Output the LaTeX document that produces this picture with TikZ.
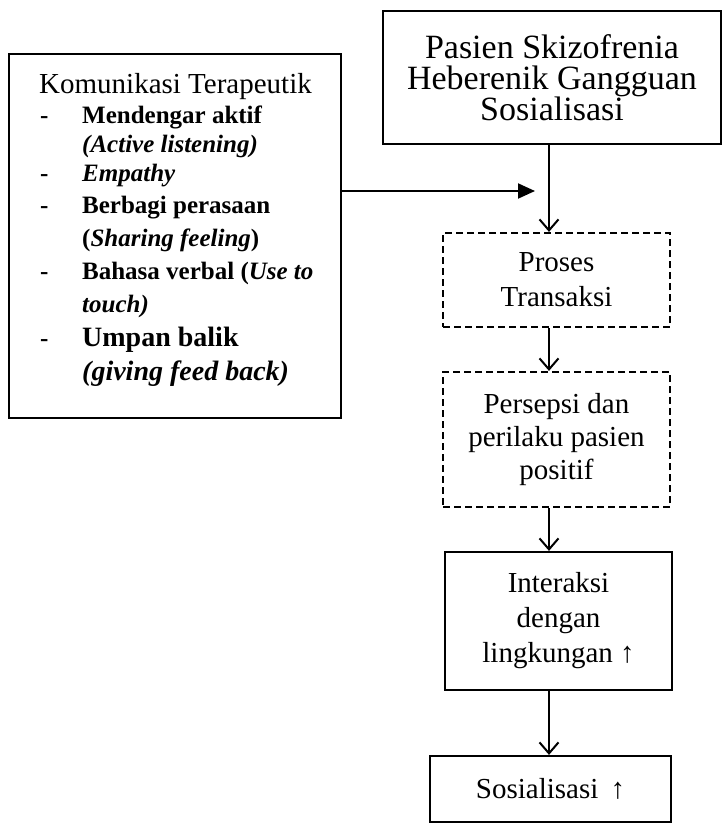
\documentclass[tikz,border=0pt]{standalone}
\usepackage{fontspec}
\setmainfont{Liberation Serif}
\usetikzlibrary{arrows.meta}
\begin{document}
\begin{tikzpicture}[x=1pt,y=-1pt,
  box/.style={draw,line width=2.2pt,inner sep=0pt,align=center},
  dbox/.style={box,dash pattern=on 7pt off 4pt},
  conn/.style={line width=2pt,-{Straight Barb[length=11pt,width=19pt,line width=2pt]}},
  hconn/.style={line width=2pt,-{Triangle[length=17pt,width=15pt]}},
  lt/.style={anchor=base west,inner sep=0pt},
  itm/.style={lt,font=\fontsize{25}{25}\selectfont\bfseries},
  itmb/.style={lt,font=\fontsize{28}{28}\selectfont\bfseries},
]
\useasboundingbox (0,0) rectangle (722,823);
% top box
\node[box,minimum width=338pt,minimum height=133pt,font=\fontsize{34}{31}\selectfont] (top) at (552,77.5)
  {Pasien Skizofrenia\\Heberenik Gangguan\\Sosialisasi};
% left box
\node[box,minimum width=332pt,minimum height=364pt] (left) at (175,236) {};
\node[lt,font=\fontsize{29}{29}\selectfont] (t0) at (39,93) {Komunikasi Terapeutik};
\node[itm] (t1) at (40,123) {\makebox[42pt][l]{-}Mendengar aktif};
\node[itm] (t2) at (82,152) {\textit{(Active listening)}};
\node[itm] (t3) at (40,181) {\makebox[42pt][l]{-}\textit{Empathy}};
\node[itm] (t4) at (40,213) {\makebox[42pt][l]{-}Berbagi perasaan};
\node[itm] (t5) at (82,246) {(\textit{Sharing feeling})};
\node[itm] (t6) at (40,279) {\makebox[42pt][l]{-}Bahasa verbal (\textit{Use to}};
\node[itm] (t7) at (82,312) {\textit{touch)}};
\node[itmb] (t8) at (40,346) {\makebox[42pt][l]{\fontsize{25}{25}\selectfont -}Umpan balik};
\node[itmb] (t9) at (82,380) {\textit{(giving feed back)}};
% right column
\node[dbox,minimum width=227pt,minimum height=94pt,font=\fontsize{29}{35}\selectfont] (b1) at (556.5,280)
  {Proses\\Transaksi};
\node[dbox,minimum width=227pt,minimum height=135pt,font=\fontsize{29}{33}\selectfont] (b2) at (556.5,439.5)
  {Persepsi dan\\perilaku pasien\\positif};
\node[box,minimum width=227pt,minimum height=138pt,font=\fontsize{29}{35}\selectfont] (b3) at (558.5,621)
  {Interaksi\\dengan\\lingkungan ↑};
\node[box,minimum width=241pt,minimum height=66pt,font=\fontsize{29}{33}\selectfont] (b4) at (550.5,789)
  {Sosialisasi \,↑};
% connectors
\coordinate (ax) at (549,0);
\coordinate (j) at (535,191);
\draw[hconn] (left.east |- j) -- (j);
\draw[conn] (top.south -| ax) -- (b1.north -| ax);
\draw[conn] (b1.south -| ax) -- (b2.north -| ax);
\draw[conn] (b2.south -| ax) -- (b3.north -| ax);
\draw[conn] (b3.south -| ax) -- (b4.north -| ax);
\end{tikzpicture}
\end{document}
